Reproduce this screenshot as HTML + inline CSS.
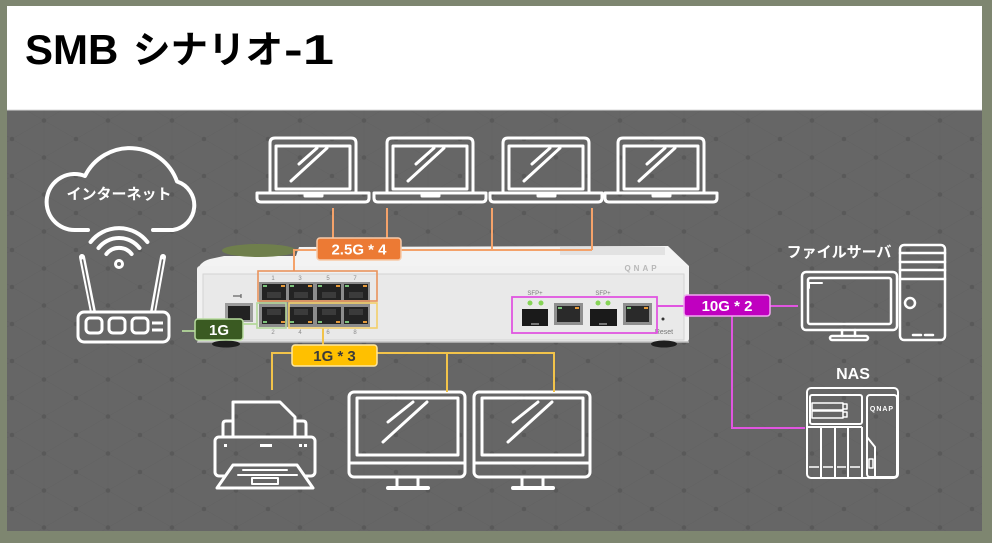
<!DOCTYPE html>
<html><head><meta charset="utf-8"><style>
html,body{margin:0;padding:0;background:#7e8670;width:992px;height:543px;overflow:hidden}
svg{display:block}
text{font-family:"Liberation Sans","Noto Sans CJK JP",sans-serif;font-weight:bold}
.jp{font-family:"Noto Sans CJK JP","Liberation Sans",sans-serif}
.sm{font-weight:normal}
</style></head><body>
<svg width="992" height="543" viewBox="0 0 992 543" xmlns="http://www.w3.org/2000/svg">
<defs>
<pattern id="grid" patternUnits="userSpaceOnUse" x="12" y="28" width="64" height="37">
<rect width="64" height="37" fill="#666"/>
<path d="M0,0 L32,18.5 L64,0 M0,37 L32,18.5 L64,37 M32,0 V37" stroke="#626262" stroke-width="0.6" fill="none"/>
<circle cx="0" cy="0" r="2.3" fill="#595959"/><circle cx="64" cy="0" r="2.3" fill="#595959"/>
<circle cx="0" cy="37" r="2.3" fill="#595959"/><circle cx="64" cy="37" r="2.3" fill="#595959"/>
<circle cx="32" cy="18.5" r="2.3" fill="#595959"/>
</pattern>
<g id="lap" fill="none" stroke="#fff" stroke-width="3" stroke-linecap="round" stroke-linejoin="round">
<path d="M0,55 V5 Q0,0 5,0 H81 Q86,0 86,5 V55"/>
<rect x="6" y="8" width="74" height="43"/>
<path d="M-13,55 H99 V60 Q99,64 95,64 H-9 Q-13,64 -13,60 Z"/>
<path d="M35,55 V58 H52 V55"/>
<path d="M29,26 L47,10 M21,43 L57,10"/>
</g>
<g id="mon" fill="none" stroke="#fff" stroke-width="3" stroke-linecap="round" stroke-linejoin="round">
<rect x="0" y="0" width="116" height="85" rx="5"/>
<rect x="8" y="6" width="101" height="57"/>
<path d="M0,71 H116"/>
<path d="M48,85 V95 M69,85 V95"/>
<path d="M39,96 H79" stroke-width="4"/>
<path d="M39,30 L64,10 M34,50 L78,10"/>
</g>
</defs>

<!-- frame -->
<rect x="7" y="6" width="975" height="104" fill="#fff"/>
<rect x="7" y="110" width="975" height="421" fill="url(#grid)"/>
<line x1="7" y1="110" x2="982" y2="110" stroke="#d8d8d8" stroke-width="1"/>

<!-- title -->
<text x="25" y="64" font-size="42" fill="#000">SMB</text>
<text class="jp" x="133" y="63" font-size="38" fill="#000" textLength="150" lengthAdjust="spacingAndGlyphs">シナリオ</text>
<text x="284" y="64" font-size="42" fill="#000" textLength="50" lengthAdjust="spacingAndGlyphs">-1</text>

<!-- cloud -->
<path d="M88,230 H75 A28,28 0 1 1 85,176 A50,50 0 0 1 177,181.5 A25,25 0 0 1 173,230 H153" fill="none" stroke="#fff" stroke-width="4" stroke-linecap="round" stroke-linejoin="round"/>
<text class="jp" x="119" y="199" font-size="15" fill="#fff" text-anchor="middle">インターネット</text>

<!-- wifi -->
<g fill="none" stroke="#fff" stroke-width="4" stroke-linecap="round">
<path d="M106.4,254 A16,16 0 0 1 131.6,254"/>
<path d="M98.5,248 A26,26 0 0 1 139.5,248"/>
<path d="M90.6,242 A36,36 0 0 1 147.4,242"/>
<circle cx="119" cy="264" r="3.5" stroke-width="3"/>
</g>

<!-- router -->
<g fill="none" stroke-linecap="round">
<path d="M82,257 L93,312 M163,257 L153,312" stroke="#fff" stroke-width="6"/>
<path d="M82.5,260 L92.5,311 M162.5,260 L153.5,311" stroke="#666" stroke-width="1.6"/>
</g>
<g fill="none" stroke="#fff" stroke-width="3">
<rect x="78" y="312" width="91" height="30" rx="6" fill="#666"/>
<rect x="86" y="318" width="16" height="15" rx="4"/>
<rect x="109" y="318" width="16" height="15" rx="4"/>
<rect x="132" y="318" width="16" height="15" rx="4"/>
<path d="M152,323 H163 M152,330 H163"/>
</g>

<!-- laptops -->
<use href="#lap" x="270" y="138"/>
<use href="#lap" x="387" y="138"/>
<use href="#lap" x="503" y="138"/>
<use href="#lap" x="618" y="138"/>

<!-- switch -->
<path d="M197,272 Q199,262 210,259 L224,256 L296,256 L299,247 L668,246 L689,266 L689,272 Z" fill="#f3f3f3"/>
<rect x="560" y="247" width="105" height="8" fill="#e2e2e2"/>
<ellipse cx="259" cy="250.5" rx="37" ry="6.5" fill="#6f7f4c"/>
<rect x="197" y="266" width="492" height="76" rx="3" fill="#f1f1f1"/>
<rect x="203" y="274" width="481" height="66" fill="#e9e9e9" stroke="#d4d4d4" stroke-width="1"/>
<line x1="197" y1="342" x2="689" y2="342" stroke="#bdbdbd" stroke-width="1.5"/>
<ellipse cx="226" cy="344" rx="14" ry="3.5" fill="#1e1e1e"/>
<ellipse cx="664" cy="344" rx="13" ry="3.5" fill="#1e1e1e"/>
<text x="642" y="271" font-size="8" fill="#b8b8b8" text-anchor="middle" letter-spacing="3">QNAP</text>

<!-- console port -->
<path d="M233,296 H241 M241,294 V298" stroke="#666" stroke-width="1.2"/>
<rect x="225" y="303" width="28" height="19" fill="#9c9c9c"/>
<rect x="228" y="306" width="22" height="14" fill="#222"/>

<!-- rj45 group -->
<rect x="259" y="282" width="111" height="45" fill="#8c8c8c"/>
<g fill="#232323">
<rect x="262" y="284" width="24" height="16"/><rect x="289" y="284" width="24" height="16"/>
<rect x="317" y="284" width="24" height="16"/><rect x="344" y="284" width="24" height="16"/>
<rect x="262" y="307" width="24" height="17"/><rect x="289" y="307" width="24" height="17"/>
<rect x="317" y="307" width="24" height="17"/><rect x="344" y="307" width="24" height="17"/>
</g>
<g fill="#3b3b3b">
<rect x="267" y="292" width="14" height="6"/><rect x="294" y="292" width="14" height="6"/>
<rect x="322" y="292" width="14" height="6"/><rect x="349" y="292" width="14" height="6"/>
<rect x="267" y="309" width="14" height="6"/><rect x="294" y="309" width="14" height="6"/>
<rect x="322" y="309" width="14" height="6"/><rect x="349" y="309" width="14" height="6"/>
</g>
<g fill="#7bc27a">
<rect x="263" y="285" width="4" height="2"/><rect x="290" y="285" width="4" height="2"/><rect x="318" y="285" width="4" height="2"/><rect x="345" y="285" width="4" height="2"/>
<rect x="263" y="321" width="4" height="2"/><rect x="290" y="321" width="4" height="2"/><rect x="318" y="321" width="4" height="2"/><rect x="345" y="321" width="4" height="2"/>
</g>
<g fill="#e59a3a">
<rect x="281" y="285" width="4" height="2"/><rect x="308" y="285" width="4" height="2"/><rect x="336" y="285" width="4" height="2"/><rect x="363" y="285" width="4" height="2"/>
<rect x="281" y="321" width="4" height="2"/><rect x="308" y="321" width="4" height="2"/><rect x="336" y="321" width="4" height="2"/><rect x="363" y="321" width="4" height="2"/>
</g>
<g font-size="6" fill="#8a8a8a" text-anchor="middle">
<text class="sm" x="273" y="280">1</text><text class="sm" x="300" y="280">3</text><text class="sm" x="328" y="280">5</text><text class="sm" x="355" y="280">7</text>
<text class="sm" x="273" y="334">2</text><text class="sm" x="300" y="334">4</text><text class="sm" x="328" y="334">6</text><text class="sm" x="355" y="334">8</text>
</g>

<!-- sfp side -->
<text class="sm" x="535" y="295" font-size="6" fill="#7a7a7a" text-anchor="middle">SFP+</text>
<text class="sm" x="603" y="295" font-size="6" fill="#7a7a7a" text-anchor="middle">SFP+</text>
<g fill="#86d456"><circle cx="530" cy="303" r="2.5"/><circle cx="541" cy="303" r="2.5"/><circle cx="598" cy="303" r="2.5"/><circle cx="608" cy="303" r="2.5"/></g>
<rect x="522" y="309" width="26" height="17" fill="#1a1a1a"/>
<rect x="590" y="309" width="27" height="17" fill="#1a1a1a"/>
<rect x="531" y="323" width="8" height="2" fill="#777"/>
<rect x="599" y="323" width="8" height="2" fill="#777"/>
<rect x="554" y="303" width="29" height="22" fill="#8f8f8f"/>
<rect x="557" y="306" width="23" height="16" fill="#2a2a2a"/>
<rect x="623" y="303" width="29" height="22" fill="#8f8f8f"/>
<rect x="626" y="306" width="23" height="16" fill="#2a2a2a"/>
<rect x="558" y="307" width="4" height="2" fill="#7bc27a"/><rect x="575" y="307" width="4" height="2" fill="#e59a3a"/>
<rect x="627" y="307" width="4" height="2" fill="#7bc27a"/><rect x="644" y="307" width="4" height="2" fill="#e59a3a"/>
<circle cx="663" cy="319" r="1.5" fill="#333"/>
<text class="sm" x="664" y="334" font-size="7" fill="#777" text-anchor="middle">Reset</text>

<!-- printer -->
<g fill="none" stroke="#fff" stroke-width="3" stroke-linejoin="round" stroke-linecap="round">
<path d="M233,437 V402 H280 L295,417 V437"/>
<path d="M223,437 V424 Q223,421 226,421 H233 M295,421 H303 Q306,421 306,424 V437"/>
<rect x="215" y="437" width="100" height="39" rx="4"/>
<path d="M233,465 H297 L313,488 H217 Z" fill="#666"/>
<path d="M243,470 H287 M238,475 H297" stroke-width="2"/>
<rect x="252" y="478" width="26" height="6" stroke-width="2"/>
</g>
<g fill="#fff"><rect x="224" y="444" width="3" height="3"/><rect x="260" y="444" width="12" height="3"/><rect x="299" y="444" width="3" height="3"/><rect x="304" y="444" width="3" height="3"/></g>

<!-- monitors -->
<use href="#mon" x="349" y="392"/>
<use href="#mon" x="474" y="392"/>

<!-- file server -->
<text class="jp" x="839" y="257" font-size="15" fill="#fff" text-anchor="middle">ファイルサーバ</text>
<g fill="none" stroke="#fff" stroke-width="2.5" stroke-linecap="round" stroke-linejoin="round">
<rect x="802" y="272" width="95" height="58" rx="4"/>
<rect x="808" y="278" width="83" height="46" rx="2"/>
<path d="M809,288 V283 H822" stroke-width="2"/>
<path d="M842,330 V336 M855,330 V336"/>
<rect x="830" y="336" width="38" height="4" rx="2"/>
<rect x="900" y="245" width="45" height="95" rx="4"/>
<path d="M900,253 H945 M900,262 H945 M900,270 H945 M900,279 H945"/>
<circle cx="910" cy="303" r="5"/>
<path d="M913,335 H921 M925,335 H933"/>
</g>

<!-- NAS -->
<text x="853" y="379" font-size="16" fill="#fff" text-anchor="middle">NAS</text>
<g fill="none" stroke="#fff" stroke-width="2" stroke-linejoin="round">
<rect x="807" y="388" width="91" height="90" rx="4"/>
<rect x="810" y="395" width="52" height="29" rx="2"/>
<rect x="812" y="403" width="31" height="7" stroke-width="1.5"/>
<rect x="812" y="411" width="31" height="7" stroke-width="1.5"/>
<path d="M843,404 h4 v5 h-4 M843,412 h4 v5 h-4" stroke-width="1.5"/>
<path d="M807,427 H862 M821,427 V478 M835,427 V478 M848,427 V478 M862,427 V478"/>
<path d="M809,467 H819 M823,467 H833 M837,467 H846 M850,467 H860" stroke-width="1.5"/>
<rect x="867" y="395" width="30" height="82" rx="3"/>
<path d="M867,437 L875,447 V477"/>
<rect x="869" y="459" width="4" height="9" stroke-width="1.5"/>
</g>
<text x="882" y="411" font-size="7" fill="#fff" text-anchor="middle" letter-spacing="1">QNAP</text>

<!-- connectors -->
<g fill="none" stroke="#f4a26a" stroke-width="2">
<path d="M333,238 V208 M387,238 V208 M401,250 H592 M492,250 V208 M592,250 V208 M317,250 H294 V271"/>
<rect x="258" y="271" width="119" height="30" stroke="#e9935c" stroke-width="1.6"/>
</g>
<g fill="none" stroke="#f2c34a" stroke-width="2">
<path d="M323,328 V345 M292,353 H272 V390 M377,353 H554 V392 M447,353 V392"/>
<rect x="289" y="303" width="88" height="25" stroke="#f3cf6a" stroke-width="1.6"/>
</g>
<g fill="none" stroke="#b4d89a" stroke-width="1.8">
<path d="M182,331 H195 M243,324 H257"/>
<rect x="257" y="303" width="29" height="25" stroke-width="1.6"/>
</g>
<g fill="none" stroke="#e055e0" stroke-width="2">
<path d="M657,306 H684 M770,306 H798 M732,316 V428 H805"/>
<rect x="512" y="297" width="145" height="36" stroke-width="1.8"/>
</g>

<!-- labels -->
<rect x="317" y="238" width="84" height="22" rx="3" fill="#ec7a34" stroke="#f7c9a8" stroke-width="1.5"/>
<text x="359" y="254.5" font-size="15" fill="#fff" text-anchor="middle">2.5G * 4</text>
<rect x="292" y="345" width="85" height="21" rx="3" fill="#ffc000" stroke="#ffe7a0" stroke-width="1.5"/>
<text x="334.5" y="361" font-size="15" fill="#3b3b3b" text-anchor="middle">1G * 3</text>
<rect x="684" y="295" width="86" height="21" rx="3" fill="#c000c0" stroke="#f1a6f1" stroke-width="1.5"/>
<text x="727" y="311" font-size="15" fill="#fff" text-anchor="middle">10G * 2</text>
<rect x="195" y="319" width="48" height="21" rx="3" fill="#3a5a22" stroke="#b8dc9e" stroke-width="1.5"/>
<text x="219" y="335" font-size="15" fill="#fff" text-anchor="middle">1G</text>
</svg>
</body></html>
